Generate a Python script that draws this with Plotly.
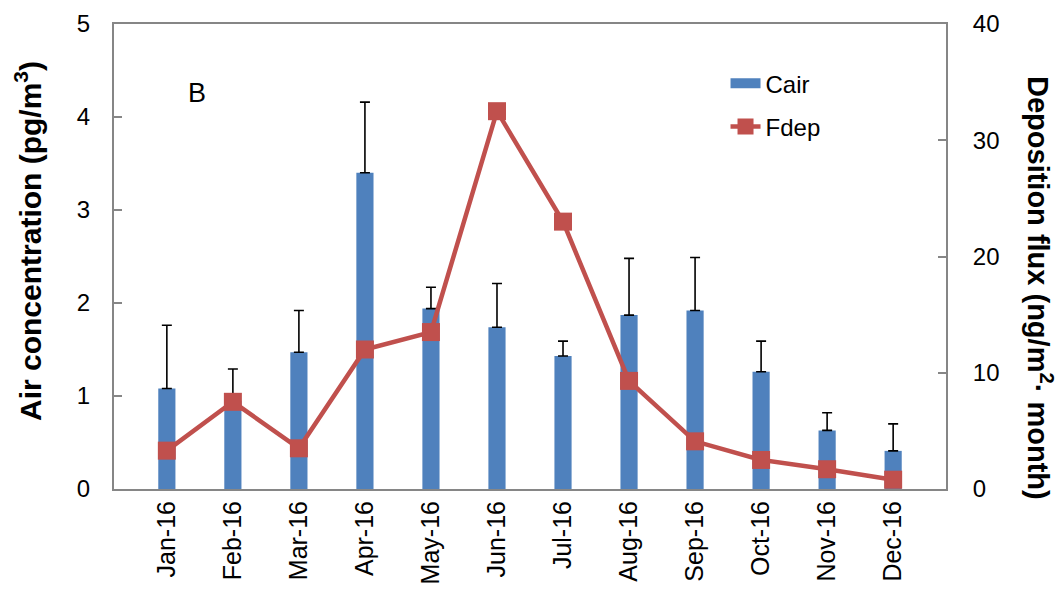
import plotly.graph_objects as go

# Monthly data, 2016
months = ["Jan-16", "Feb-16", "Mar-16", "Apr-16", "May-16", "Jun-16",
          "Jul-16", "Aug-16", "Sep-16", "Oct-16", "Nov-16", "Dec-16"]
cair = [1.08, 0.95, 1.47, 3.40, 1.94, 1.74, 1.43, 1.87, 1.92, 1.26, 0.63, 0.41]
cair_err_top = [1.76, 1.29, 1.92, 4.16, 2.17, 2.21, 1.59, 2.48, 2.49, 1.59, 0.82, 0.70]
fdep = [3.3, 7.5, 3.5, 12.0, 13.5, 32.5, 23.0, 9.3, 4.1, 2.5, 1.7, 0.8]

cair_err = [round(t - v, 3) for t, v in zip(cair_err_top, cair)]

BLUE = "#4F81BD"
RED = "#C0504D"
AXIS = "#868686"
FONT = "Liberation Sans, Arial, sans-serif"

# plot-area geometry in pixels (used to place free text)
L, R, T, B = 114, 946, 24, 489


def px_x(x):
    return (x - L) / (R - L)


def px_y(y):
    return (B - y) / (B - T)


fig = go.Figure()

# Bars with one-sided (upper) error bars
fig.add_trace(go.Bar(
    x=months, y=cair, name="Cair", showlegend=False,
    marker=dict(color=BLUE, line=dict(width=0)),
    width=0.26,
    error_y=dict(type="data", symmetric=False, array=cair_err,
                 arrayminus=[0] * len(cair), color="black",
                 thickness=1.6, width=5),
    yaxis="y",
))

# Legend entry for the bars: a wide flat swatch
fig.add_trace(go.Scatter(
    x=[None], y=[None], name="Cair", mode="lines",
    line=dict(color=BLUE, width=12), legendgroup="cair",
    yaxis="y",
))

fig.add_trace(go.Scatter(
    x=months, y=fdep, name="Fdep", mode="lines+markers",
    line=dict(color=RED, width=4.5),
    marker=dict(symbol="square", size=18, color=RED),
    legendgroup="fdep",
    yaxis="y2",
))

fig.add_annotation(text="B", x=px_x(197), y=px_y(93),
                   xref="paper", yref="paper", xanchor="center", yanchor="middle",
                   showarrow=False, font=dict(size=27, color="black", family=FONT))

# Axis titles
fig.add_annotation(text="<b>Air concentration (pg/m<sup>3</sup>)</b>",
                   x=px_x(28), y=px_y(241), xref="paper", yref="paper",
                   xanchor="center", yanchor="middle", textangle=-90,
                   showarrow=False, font=dict(size=30, color="black", family=FONT))
fig.add_annotation(text="<b>Deposition flux (ng/m<sup>2</sup>· month)</b>",
                   x=px_x(1040), y=px_y(288), xref="paper", yref="paper",
                   xanchor="center", yanchor="middle", textangle=90,
                   showarrow=False, font=dict(size=29, color="black", family=FONT))

fig.update_layout(
    width=1057, height=591,
    margin=dict(l=L, r=1057 - R, t=T, b=591 - B, autoexpand=False),
    paper_bgcolor="white", plot_bgcolor="white",
    font=dict(family=FONT, color="black", size=22),
    showlegend=True,
    legend=dict(x=0.735, y=0.92, xanchor="left", yanchor="top",
                bgcolor="rgba(0,0,0,0)", font=dict(size=24),
                traceorder="grouped", tracegroupgap=9),
    xaxis=dict(
        showline=True, linecolor=AXIS, linewidth=2, mirror=True,
        ticks="", tickangle=-90, tickfont=dict(size=25),
        showgrid=False,
    ),
    yaxis=dict(
        range=[0, 5], dtick=1, showline=True, linecolor=AXIS, linewidth=2,
        ticks="inside", ticklen=8, tickcolor=AXIS, tickwidth=1.5,
        ticklabelstandoff=17,
        showgrid=False, zeroline=False, tickfont=dict(size=24),
    ),
    yaxis2=dict(
        range=[0, 40], dtick=10, overlaying="y", side="right",
        showline=True, linecolor=AXIS, linewidth=2,
        ticks="inside", ticklen=8, tickcolor=AXIS, tickwidth=1.5,
        ticklabelstandoff=20,
        showgrid=False, zeroline=False, tickfont=dict(size=24),
    ),
)

fig.write_html("out.html")
